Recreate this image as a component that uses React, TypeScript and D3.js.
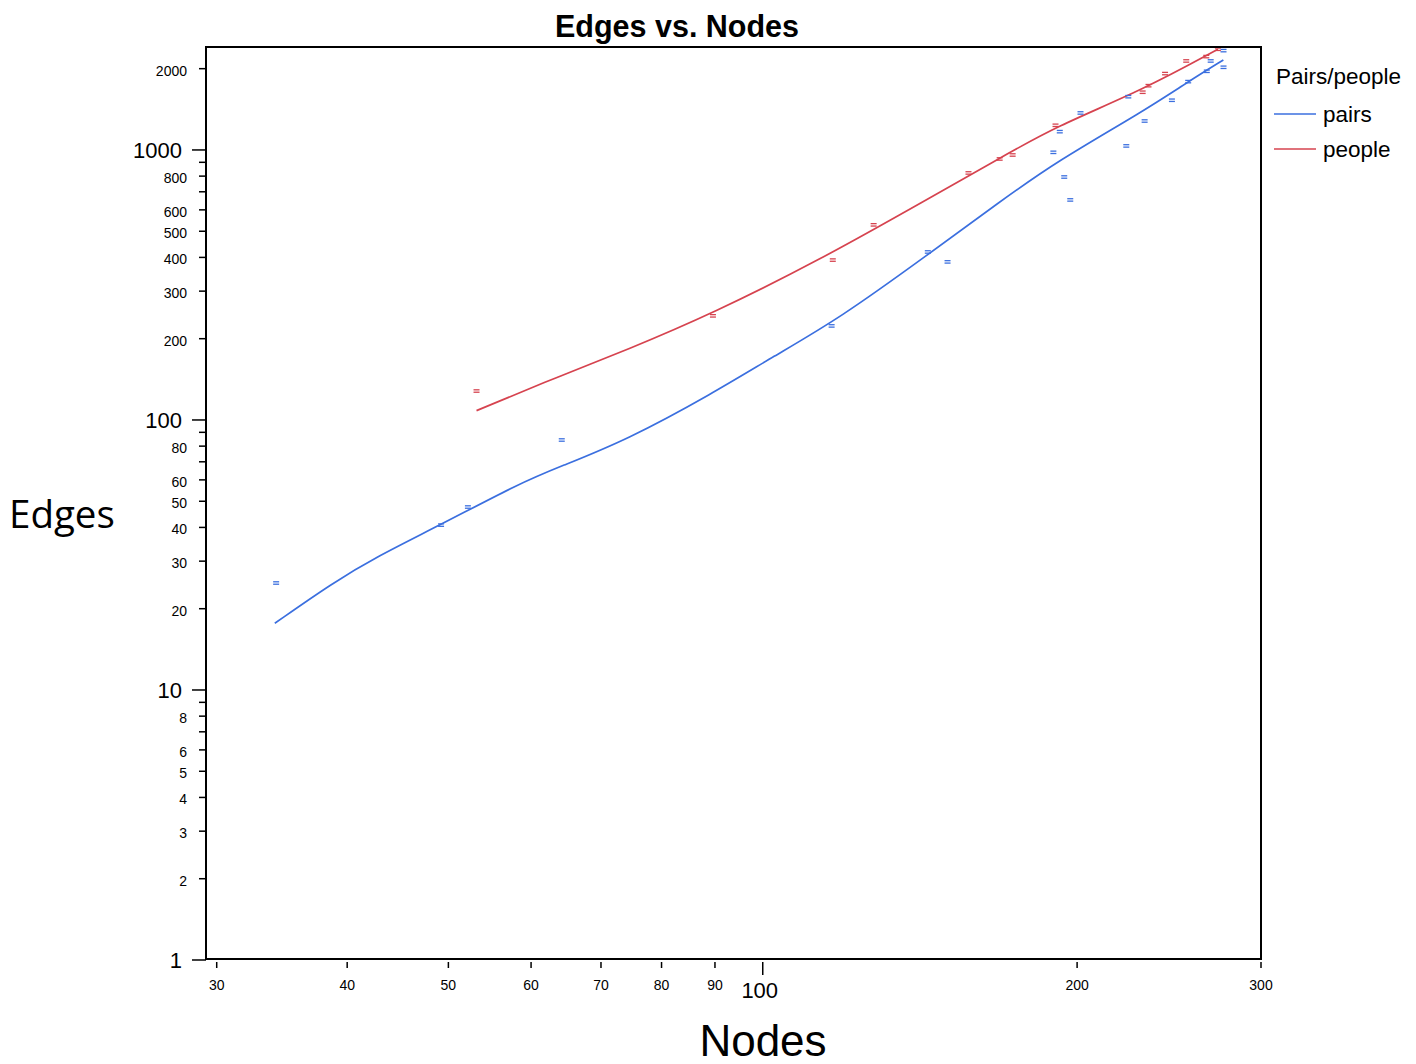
import React from "react";
import * as d3 from "d3";

// scatter values (nodes, edges)
const pairsNodes = [34.2, 49.2, 52.2, 64.2, 116.4, 143.9, 150.3, 189.8, 192.5, 194.4, 197.0, 201.5, 222.9, 223.9, 232.1, 246.5, 255.5, 266.2, 268.5, 276.2, 276.2];
const pairsEdges = [24.9, 40.8, 47.6, 84.3, 223, 419, 385, 980, 1169, 794, 653, 1371, 1035, 1575, 1280, 1528, 1791, 1956, 2136, 2333, 2024];

const peopleNodes = [53.2, 89.6, 116.7, 127.7, 157.4, 168.6, 173.5, 190.7, 231.1, 234.1, 242.8, 254.4, 265.9, 272.8];
const peopleEdges = [128, 243, 391, 528, 822, 926, 958, 1234, 1636, 1730, 1918, 2136, 2217, 2360];

// smoothed fit lines as drawn in the picture
const pairsFitNodes = [34.1, 38.7, 42.7, 49.1, 58.5, 63.9, 74.1, 89.6, 102.3, 118.5, 143.8, 168.6, 191.0, 231.2, 255.6, 276.1];
const pairsFitEdges = [17.66, 24.85, 31.2, 40.8, 58.3, 67.1, 84.3, 125.6, 171.6, 238, 408.4, 642, 905, 1387, 1791, 2154];

const peopleFitNodes = [53.2, 63.9, 74.1, 89.6, 113.4, 143.4, 168.6, 190.7, 231.2, 272.8];
const peopleFitEdges = [108.3, 145.5, 181.7, 248.5, 391.4, 652.9, 931.7, 1220, 1668, 2360];

const xTicks = [30, 40, 50, 60, 70, 80, 90, 200, 300];
const xMajorTicks = [100];
const yMajorTicks = [1, 10, 100, 1000];
const yLabeledTicks = [2, 3, 4, 5, 6, 8, 20, 30, 40, 50, 60, 80, 200, 300, 400, 500, 600, 800, 2000];
const yPlainTicks = [7, 9, 70, 90, 700, 900];

const seriesNames = ["pairs", "people"];
const legendTitle = "Pairs/people";

const BLUE = "#3b6fdf";
const RED = "#d6434f";
const FONT = "'Liberation Sans', Arial, sans-serif";

export default function App() {
  const left = 206, right = 1261, top = 47, bottom = 959;

  const x = d3.scaleLog().domain([29.3, 300]).range([left, right]);
  const y = d3.scaleLog().domain([1, 2406]).range([960, top]);

  const line = d3.line<[number, number]>()
    .x(d => x(d[0]))
    .y(d => y(d[1]))
    .curve(d3.curveBasis);

  const pairsFit = pairsFitNodes.map((n, i) => [n, pairsFitEdges[i]] as [number, number]);
  const peopleFit = peopleFitNodes.map((n, i) => [n, peopleFitEdges[i]] as [number, number]);

  const marker = (nx: number, ey: number, color: string, key: string) => {
    const cx = x(nx), cy = y(ey);
    return (
      <g key={key} stroke={color} strokeWidth={1.3}>
        <line x1={cx - 3} x2={cx + 3} y1={cy - 1.2} y2={cy - 1.2} />
        <line x1={cx - 3} x2={cx + 3} y1={cy + 1.2} y2={cy + 1.2} />
      </g>
    );
  };

  return (
    <svg width={1416} height={1064} style={{ position: "absolute", left: 0, top: 0, background: "#fff" }} fontFamily={FONT}>
      <rect x={0} y={0} width={1416} height={1064} fill="#fff" />
      <text x={677} y={37} textAnchor="middle" fontSize={30.5} fontWeight="bold">Edges vs. Nodes</text>

      {/* y axis ticks */}
      {yMajorTicks.map(t => (
        <g key={"ym" + t}>
          <line x1={192} x2={left} y1={y(t)} y2={y(t)} stroke="#000" strokeWidth={1.5} />
          <text x={182} y={y(t)} dy="0.37em" textAnchor="end" fontSize={22}>{t}</text>
        </g>
      ))}
      {yLabeledTicks.map(t => (
        <g key={"yl" + t}>
          <line x1={199} x2={left} y1={y(t)} y2={y(t)} stroke="#000" strokeWidth={1.5} />
          <text x={187} y={y(t)} dy="0.5em" textAnchor="end" fontSize={14}>{t}</text>
        </g>
      ))}
      {yPlainTicks.map(t => (
        <line key={"yp" + t} x1={199} x2={left} y1={y(t)} y2={y(t)} stroke="#000" strokeWidth={1.5} />
      ))}

      {/* x axis ticks */}
      {xTicks.map(t => (
        <g key={"x" + t}>
          <line x1={x(t)} x2={x(t)} y1={962} y2={968} stroke="#000" strokeWidth={1.5} />
          <text x={x(t)} y={990} textAnchor="middle" fontSize={14}>{t}</text>
        </g>
      ))}
      {xMajorTicks.map(t => (
        <g key={"xm" + t}>
          <line x1={x(t)} x2={x(t)} y1={962} y2={975} stroke="#000" strokeWidth={1.5} />
          <text x={x(t) - 3} y={998} textAnchor="middle" fontSize={22}>{t}</text>
        </g>
      ))}

      {/* fit lines */}
      <path d={line(pairsFit) || ""} fill="none" stroke={BLUE} strokeWidth={1.7} />
      <path d={line(peopleFit) || ""} fill="none" stroke={RED} strokeWidth={1.7} />

      {/* points */}
      {pairsNodes.map((n, i) => marker(n, pairsEdges[i], BLUE, "p" + i))}
      {peopleNodes.map((n, i) => marker(n, peopleEdges[i], RED, "q" + i))}

      <rect x={left} y={top} width={right - left} height={bottom - top} fill="none" stroke="#000" strokeWidth={2} />

      {/* axis titles */}
      <text x={9} y={528} fontSize={38.5} fontFamily="'Open Sans', sans-serif">Edges</text>
      <text x={763} y={1056} textAnchor="middle" fontSize={44}>Nodes</text>

      {/* legend */}
      <text x={1276} y={84} fontSize={22.5}>{legendTitle}</text>
      {seriesNames.map((s, i) => (
        <g key={s}>
          <line x1={1274} x2={1316} y1={114 + i * 35} y2={114 + i * 35} stroke={i === 0 ? BLUE : RED} strokeWidth={1.6} />
          <text x={1323} y={122 + i * 35} fontSize={22.5}>{s}</text>
        </g>
      ))}
    </svg>
  );
}
